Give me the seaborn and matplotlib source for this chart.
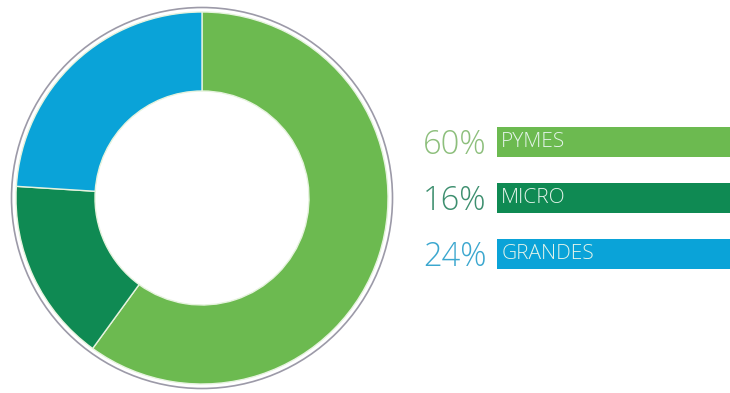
import matplotlib
matplotlib.use("Agg")
import matplotlib.pyplot as plt
import seaborn as sns
import pandas as pd

categories = ["PYMES", "MICRO", "GRANDES"]
shares = [60, 16, 24]
pct_labels = ["60%", "16%", "24%"]
colors = ["#6cba50", "#0f8a53", "#0aa3d8"]
pct_colors = ["#8dbf7c", "#3d8f6f", "#3ba7cf"]

sns.set_theme(style="white")
plt.rcParams["font.family"] = ["Open Sans", "DejaVu Sans"]

W, H = 730, 393
fig = plt.figure(figsize=(W / 100, H / 100), dpi=100)
fig.patch.set_facecolor("white")

# Donut
cx, cy, half = 202, 198, 195
axp = fig.add_axes([(cx - half) / W, (H - cy - half) / H, 2 * half / W, 2 * half / H])
r_out = 186 / half
r_in = 107 / half
axp.pie(shares, colors=colors, startangle=90, counterclock=False, radius=r_out,
        wedgeprops=dict(width=r_out - r_in, edgecolor="#e6f3de", linewidth=1.0))
axp.add_patch(plt.Circle((0, 0), 190.5 / half, fill=False, edgecolor="#9c9aa8", linewidth=1.2))
axp.set_xlim(-1, 1)
axp.set_ylim(-1, 1)
axp.set_aspect("equal")
axp.axis("off")

# Legend bars
x0 = 497
top, bot = 114, 282
axb = fig.add_axes([x0 / W, (H - bot) / H, (W - x0) / W + 0.01, (bot - top) / H])
df = pd.DataFrame({"cat": categories, "full": [1] * len(categories)})
sns.barplot(data=df, x="full", y="cat", hue="cat", palette=colors, legend=False,
            width=0.54, ax=axb, saturation=1, orient="h", linewidth=0)
axb.set_xlim(0, 1)
axb.set_ylim(2.5, -0.5)
axb.axis("off")
for i, (cat, pct, pc) in enumerate(zip(categories, pct_labels, pct_colors)):
    axb.annotate(pct, xy=(0, i), xytext=(-7.5, -2), textcoords="offset points",
                 ha="right", va="center", fontsize=23.5, color=pc, fontweight="light")
    axb.annotate(cat, xy=(0, i), xytext=(3, 0), textcoords="offset points",
                 ha="left", va="center", fontsize=15, color="#e4f4ea", fontweight="light")

fig.savefig("out.png", dpi=100, facecolor="white")
